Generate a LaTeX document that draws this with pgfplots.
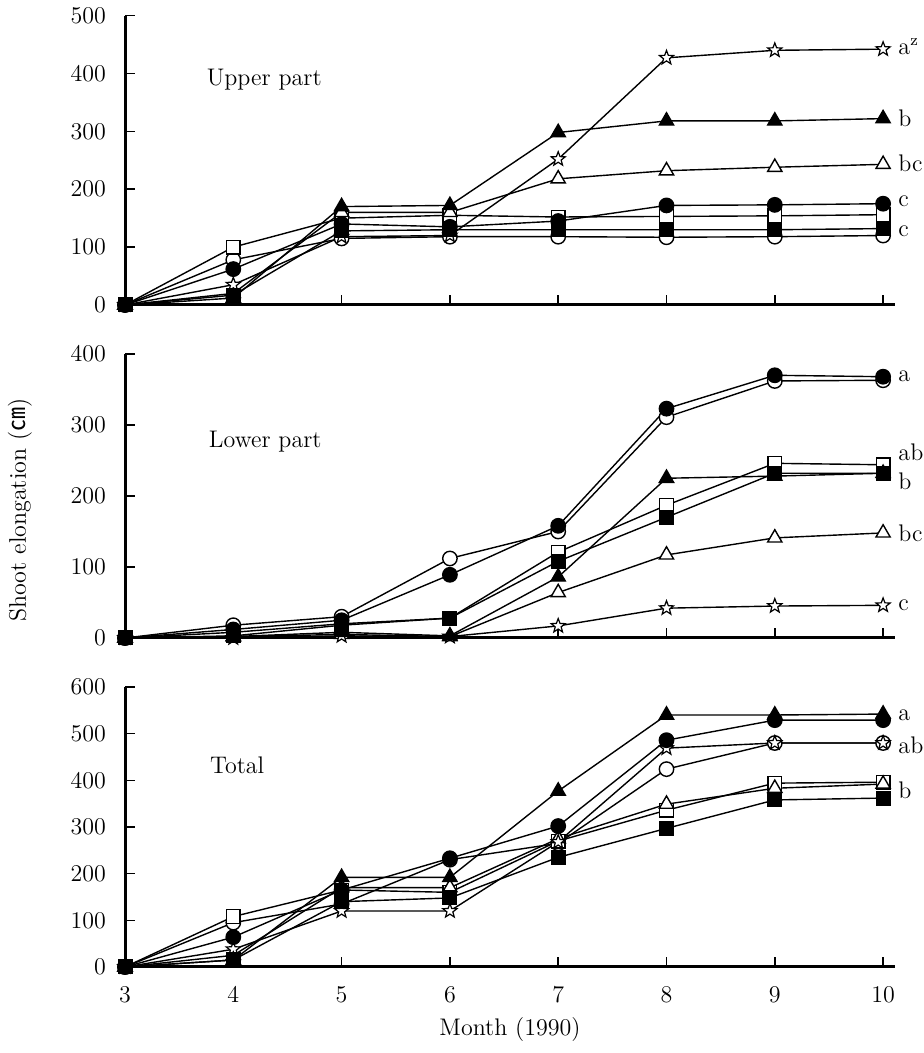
\documentclass[border=0pt]{standalone}
\usepackage{pgfplots}
\pgfplotsset{compat=1.18}
\usepackage{pgfplotstable}
\usepackage{fontspec}
\newfontfamily\cjk{Noto Sans CJK JP}
\usetikzlibrary{plotmarks}

% month, open circle, filled circle, open square, filled square, open triangle, filled triangle, star
\pgfplotstableread{
m  oc  fc  os  fs  ot  ft  st
3  0   0   0   0   0   0   0
4  78  62  100 17  20  12  35
5  115 140 150 128 160 170 118
6  118 135 155 130 160 172 120
7  118 145 152 130 218 298 252
8  117 172 153 130 232 318 427
9  118 173 154 130 238 318 440
10 120 175 156 132 243 322 442
}\tabU
\pgfplotstableread{
m  oc  fc  os  fs  ot  ft  st
3  0   0   0   0   0   0   0
4  18  12  8   3   2   2   0
5  30  25  20  18  5   8   3
6  112 89  28  28  2   3   2
7  150 158 121 108 64  86  17
8  311 323 187 170 117 225 42
9  362 370 246 232 141 228 45
10 363 368 244 232 148 232 46
}\tabL
\pgfplotstableread{
m  oc  fc  os  fs  ot  ft  st
3  0   0   0   0   0   0   0
4  95  64  108 15  25  15  38
5  135 165 165 140 170 192 120
6  230 233 160 148 170 192 120
7  265 302 270 235 275 377 268
8  424 486 336 297 349 540 469
9  480 529 394 358 383 540 480
10 480 529 396 362 392 542 480
}\tabT

% five-pointed star outline
\pgfdeclareplotmark{ostar}{%
  \pgfpathmoveto{\pgfpointpolar{90}{\pgfplotmarksize}}%
  \pgfpathlineto{\pgfpointpolar{126}{0.42\pgfplotmarksize}}%
  \pgfpathlineto{\pgfpointpolar{162}{\pgfplotmarksize}}%
  \pgfpathlineto{\pgfpointpolar{198}{0.42\pgfplotmarksize}}%
  \pgfpathlineto{\pgfpointpolar{234}{\pgfplotmarksize}}%
  \pgfpathlineto{\pgfpointpolar{270}{0.42\pgfplotmarksize}}%
  \pgfpathlineto{\pgfpointpolar{306}{\pgfplotmarksize}}%
  \pgfpathlineto{\pgfpointpolar{342}{0.42\pgfplotmarksize}}%
  \pgfpathlineto{\pgfpointpolar{18}{\pgfplotmarksize}}%
  \pgfpathlineto{\pgfpointpolar{54}{0.42\pgfplotmarksize}}%
  \pgfpathclose
  \pgfusepathqfillstroke}

\tikzset{lab/.style={font=\fontsize{12}{14}\selectfont, anchor=west, inner sep=1pt, xshift=6.5pt}}

\pgfplotsset{
  panel/.style={scale only axis, width=385pt, xmin=3, xmax=10.11, ymin=0,
    axis lines=left, axis line style={-, line width=1.5pt},
    tick align=inside, major tick length=5pt, tick style={black, line width=0.8pt},
    clip=false, anchor=south west,
    ticklabel style={font=\fontsize{12}{14}\selectfont},
    yticklabel style={xshift=-6pt}, xticklabel style={yshift=-6pt},
    xtick={4,...,10}, xticklabels={},
    every axis plot/.append style={black, line width=0.7pt}},
  oc/.style={mark=*, mark size=3.6pt, mark options={solid, fill=white, draw=black}},
  fc/.style={mark=*, mark size=3.6pt, mark options={solid, fill=black}},
  os/.style={mark=square*, mark size=3.4pt, mark options={solid, fill=white, draw=black}},
  fs/.style={mark=square*, mark size=3.4pt, mark options={solid, fill=black}},
  ot/.style={mark=triangle*, mark size=4.1pt, mark options={solid, fill=white, draw=black}},
  ft/.style={mark=triangle*, mark size=4.1pt, mark options={solid, fill=black}},
  st/.style={mark=ostar, mark size=3.7pt, mark options={solid, fill=white, draw=black, line width=0.6pt}},
}

\newcommand\series[1]{%
  \addplot[oc] table[x=m,y=oc] {#1};
  \addplot[os] table[x=m,y=os] {#1};
  \addplot[ot] table[x=m,y=ot] {#1};
  \addplot[st] table[x=m,y=st] {#1};
  \addplot[fc] table[x=m,y=fc] {#1};
  \addplot[ft] table[x=m,y=ft] {#1};
  \addplot[fs] table[x=m,y=fs] {#1};
}

\begin{document}
\begin{tikzpicture}
\path[use as bounding box] (0,0) rectangle (462pt,526.5pt);

\begin{axis}[panel, at={(62.5pt,374pt)}, height=144.7pt, ymax=500,
    ytick={0,100,...,500}]
  \series{\tabU}
  \node[font=\fontsize{12}{14}\selectfont, anchor=west] at (axis cs:3.69,389) {Upper part};
  \node[lab] at (axis cs:10,446) {a\textsuperscript{z}};
  \node[lab] at (axis cs:10,322) {b};
  \node[lab] at (axis cs:10,244) {bc};
  \node[lab] at (axis cs:10,180) {c};
  \node[lab] at (axis cs:10,128) {c};
\end{axis}

\begin{axis}[panel, at={(62.5pt,207.5pt)}, height=142pt, ymax=400,
    ytick={0,100,...,400}]
  \series{\tabL}
  \node[font=\fontsize{12}{14}\selectfont, anchor=west] at (axis cs:3.71,276) {Lower part};
  \node[lab] at (axis cs:10,368) {a};
  \node[lab] at (axis cs:10,262) {ab};
  \node[lab] at (axis cs:10,220) {b};
  \node[lab] at (axis cs:10,148) {bc};
  \node[lab] at (axis cs:10,46) {c};
\end{axis}

\begin{axis}[panel, at={(62.5pt,43pt)}, height=140pt, ymax=600,
    ytick={0,100,...,600}, xtick={3,...,10}, xticklabels={3,4,5,6,7,8,9,10}]
  \series{\tabT}
  \node[font=\fontsize{12}{14}\selectfont, anchor=west] at (axis cs:3.72,433) {Total};
  \node[lab] at (axis cs:10,540) {a};
  \node[lab] at (axis cs:10,475) {ab};
  \node[lab] at (axis cs:10,379) {b};
\end{axis}

\node[font=\fontsize{12}{14}\selectfont] at (255pt,11.5pt) {Month (1990)};
\node[font=\fontsize{12}{14}\selectfont, rotate=90] at (10pt,271.5pt) {Shoot elongation ({\cjk ㎝})};
\end{tikzpicture}
\end{document}
